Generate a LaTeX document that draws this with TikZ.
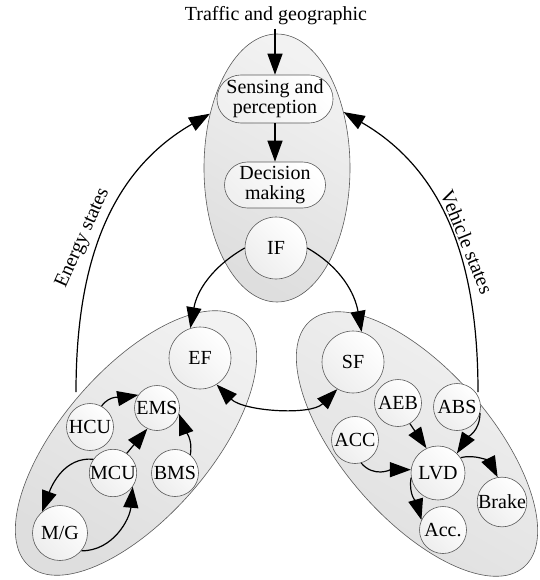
\documentclass[tikz,border=0pt]{standalone}
\usepackage{fontspec}
\setmainfont{Liberation Serif}
\usetikzlibrary{shapes.geometric,shapes.misc,arrows.meta}
\begin{document}
\begin{tikzpicture}[x=1pt,y=1pt,
  every node/.style={font=\fontsize{20}{22}\selectfont},
  region/.style={ellipse, draw=black!65, line width=0.6pt, inner sep=0pt,
    top color=gray!10, bottom color=gray!26, shading angle=-30},
  circ/.style={circle, draw=black!65, line width=0.6pt, inner sep=0pt,
    top color=white, bottom color=gray!14, shading angle=-45},
  pill/.style={rounded rectangle, draw=black!65, line width=0.6pt, inner sep=0pt,
    top color=white, bottom color=gray!12, shading angle=-45, align=center},
  arr/.style={line width=1.2pt, -{Triangle[length=21pt,width=15pt]}},
  barr/.style={line width=1.2pt, {Triangle[length=21pt,width=15pt]}-{Triangle[length=21pt,width=15pt]}}
]
\useasboundingbox (0,0) rectangle (539,-580);

% regions
\node[region, minimum width=146, minimum height=268] (top) at (277,-168) {};
\node[region, minimum width=326, minimum height=148, rotate=49] (LE) at (136,-443) {};
\node[region, minimum width=326, minimum height=148, rotate=-49] (RE) at (417,-444) {};

% top group
\node (traffic) at (276,-16) {Traffic and geographic};
\node[pill, minimum width=114, minimum height=48] (SP) at (275,-99) {Sensing and\\[-2pt]perception};
\node[pill, minimum width=101, minimum height=46] (DM) at (275,-185) {Decision\\[-2pt]making};
\node[circ, minimum size=62] (IF) at (276,-248) {IF};

% left group
\node[circ, minimum size=62] (EF) at (200,-358) {EF};
\node[circ, minimum size=45] (EMS) at (157,-408) {EMS};
\node[circ, minimum size=47] (HCU) at (90,-427) {HCU};
\node[circ, minimum size=47] (MCU) at (113,-473) {MCU};
\node[circ, minimum size=47] (BMS) at (175,-473) {BMS};
\node[circ, minimum size=55] (MG) at (60,-533) {M/G};

% right group
\node[circ, minimum size=62] (SF) at (353,-362) {SF};
\node[circ, minimum size=47] (AEB) at (398,-403) {AEB};
\node[circ, minimum size=47] (ABS) at (457,-407) {ABS};
\node[circ, minimum size=47] (ACC) at (355,-440) {ACC};
\node[circ, minimum size=54] (LVD) at (438,-473) {LVD};
\node[circ, minimum size=49] (Brake) at (502,-502) {Brake};
\node[circ, minimum size=47] (Acc) at (443,-530) {Acc.};

\coordinate (eL) at (76,-392);
\coordinate (eR) at (478,-392);

% top arrows
\draw[arr] (traffic.south -| SP.north) -- (SP.north);
\draw[arr] (SP.south) -- (DM.north);

% state feedback
\draw[arr] (eL) to[out=90, in=210] (top.141);
\draw[arr] (eR) to[out=90, in=-30] (top.40);
\node[rotate=66] (lblE) at (83,-238) {Energy states};
\node[rotate=-68] (lblV) at (467,-242) {Vehicle states};

% IF to fusions
\draw[arr] (IF.180) to[out=210, in=80] (EF.108);
\draw[arr] (IF.0) to[out=-30, in=100] (SF.74);
\draw[barr] (EF.-58) to[out=-45, in=-135, looseness=0.8] (SF.240);

% left internals
\draw[arr] (HCU.61) to[out=55, in=190] (EMS.145);
\draw[arr] (MCU.55) -- (EMS.245);
\draw[arr] (BMS.50) to[out=80, in=-70] (EMS.-15);
\draw[arr] (MCU.145) to[out=175, in=70] (MG.130);
\draw[arr] (MG.-40) to[out=0, in=-95] (MCU.-35);

% right internals
\draw[arr] (ACC.-75) to[out=-50, in=180] (LVD.173);
\draw[arr] (AEB.-60) -- (LVD.115);
\draw[arr] (ABS.-15) to[out=-90, in=57] (LVD.46);
\draw[arr] (LVD.34) to[out=15, in=117] (Brake.100);
\draw[arr] (LVD.190) to[out=-100, in=106] (Acc.155);
\end{tikzpicture}
\end{document}
